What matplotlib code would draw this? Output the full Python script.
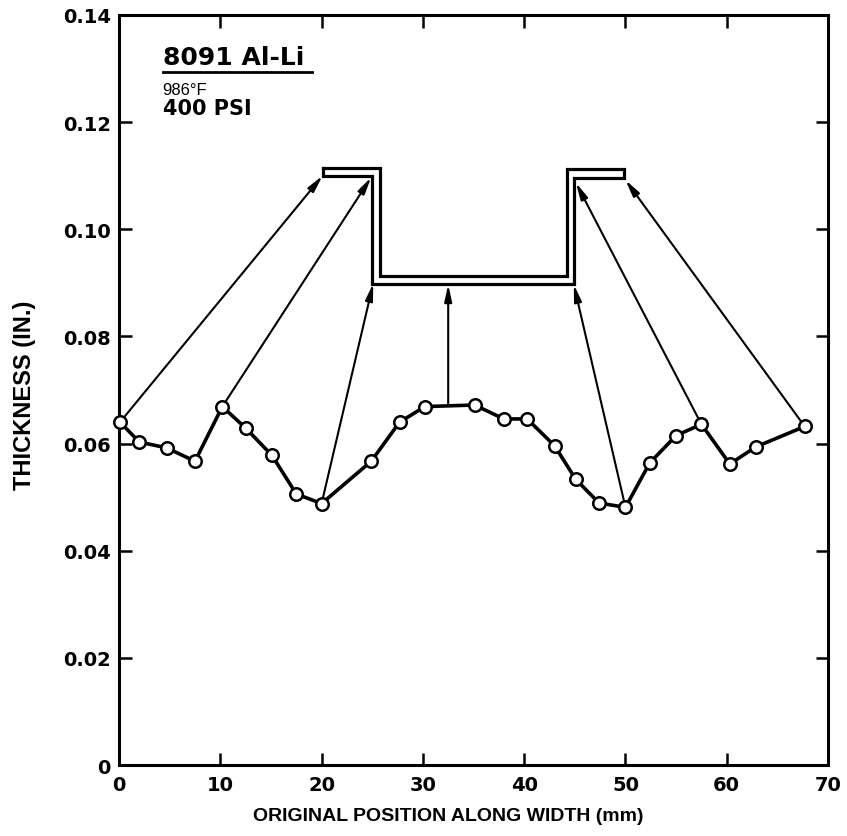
import matplotlib
matplotlib.use('Agg')
import matplotlib.pyplot as plt

plt.rcParams['font.family'] = ['DejaVu Sans']

# measured thickness profile
x_pos = [0.1, 2.0, 4.7, 7.5, 10.2, 12.5, 15.1, 17.5, 20.0, 24.9, 27.7, 30.2, 35.1,
         38.0, 40.3, 43.0, 45.1, 47.4, 50.0, 52.4, 55.0, 57.5, 60.3, 62.9, 67.7]
thickness = [0.0640, 0.0603, 0.0592, 0.0567, 0.0669, 0.0629, 0.0578, 0.0506, 0.0488,
             0.0567, 0.0640, 0.0669, 0.0672, 0.0646, 0.0646, 0.0596, 0.0533, 0.0489,
             0.0481, 0.0564, 0.0615, 0.0636, 0.0562, 0.0594, 0.0632]

# formed hat-section outline
profile_x = [20.1, 25.8, 25.8, 44.2, 44.2, 49.9, 49.9, 44.9, 44.9, 25.0, 25.0, 20.1, 20.1]
profile_y = [0.1115, 0.1115, 0.0913, 0.0913, 0.1113, 0.1113, 0.1095, 0.1095, 0.0897,
             0.0897, 0.1100, 0.1100, 0.1115]

# arrows from original position to final position
arrow_from_x = [0.1, 10.2, 20.0, 32.5, 50.0, 57.5, 67.7]
arrow_from_y = [0.0640, 0.0669, 0.0488, 0.0670, 0.0481, 0.0636, 0.0632]
arrow_to_x = [20.1, 24.9, 25.1, 32.5, 44.9, 45.1, 50.0]
arrow_to_y = [0.1100, 0.1097, 0.0899, 0.0897, 0.0897, 0.1087, 0.1092]

xticks = [0, 10, 20, 30, 40, 50, 60, 70]
yticks = [0, 0.02, 0.04, 0.06, 0.08, 0.10, 0.12, 0.14]
ytick_labels = ['0', '0.02', '0.04', '0.06', '0.08', '0.10', '0.12', '0.14']

fig = plt.figure(figsize=(8.47, 8.37), dpi=100)
ax = fig.add_axes([0.1405, 0.0848, 0.8371, 0.8961])

for i in range(len(arrow_from_x)):
    ax.annotate('', xy=(arrow_to_x[i], arrow_to_y[i]),
                xytext=(arrow_from_x[i], arrow_from_y[i]),
                arrowprops=dict(arrowstyle='-|>,head_length=1.0,head_width=0.22',
                                color='black', lw=1.5, shrinkA=0, shrinkB=0),
                zorder=2)

ax.plot(profile_x, profile_y, color='black', lw=2.3, solid_joinstyle='miter', zorder=3)

ax.plot(x_pos, thickness, color='black', lw=2.6, marker='o', markersize=9,
        markerfacecolor='white', markeredgecolor='black', markeredgewidth=1.8,
        clip_on=False, zorder=4)

ax.set_xlim(0, 70)
ax.set_ylim(0, 0.14)
ax.set_xticks(xticks)
ax.set_xticklabels([str(t) for t in xticks])
ax.set_yticks(yticks)
ax.set_yticklabels(ytick_labels)

ax.tick_params(direction='in', length=9, width=1.8, top=True, right=True,
               labelsize=14)
ax.tick_params(axis='x', pad=7)
ax.tick_params(axis='y', pad=6)
for lab in ax.get_xticklabels() + ax.get_yticklabels():
    lab.set_fontweight('bold')
for sp in ax.spines.values():
    sp.set_linewidth(2.2)

ax.set_xlabel('ORIGINAL POSITION ALONG WIDTH (mm)', fontsize=14, fontweight='bold',
              family='Liberation Sans')
ax.set_ylabel('THICKNESS (IN.)', fontsize=17, fontweight='bold', family='Liberation Sans')
ax.xaxis.set_label_coords(0.464, -0.056)
ax.yaxis.set_label_coords(-0.117, 0.494)

ax.text(4.3, 0.1309, '8091 Al-Li', fontsize=18, fontweight='bold', ha='left', va='baseline')
ax.plot([4.3, 19.1], [0.1294, 0.1294], color='black', lw=2)
ax.text(4.3, 0.1253, '986°F', fontsize=12, ha='left', va='baseline', family='Liberation Sans')
ax.text(4.3, 0.1216, '400 PSI', fontsize=15, fontweight='bold', ha='left', va='baseline')

fig.savefig('out.png', dpi=100)
